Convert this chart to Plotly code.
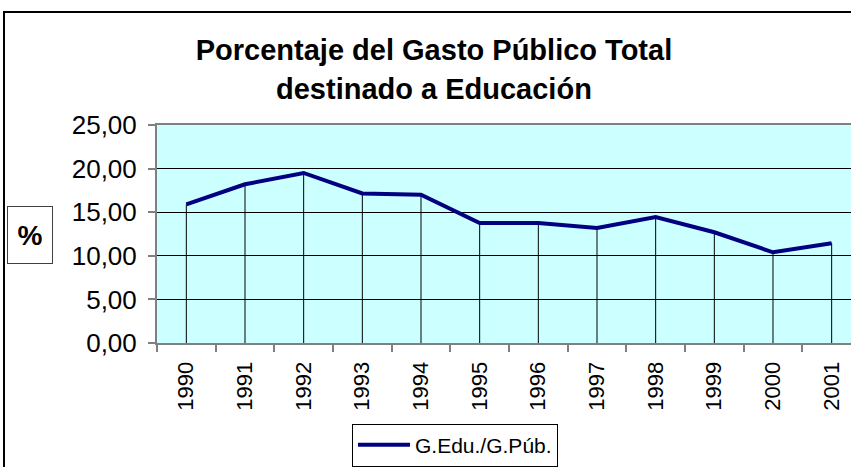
import plotly.graph_objects as go

years = ["1990", "1991", "1992", "1993", "1994", "1995", "1996", "1997", "1998", "1999", "2000", "2001"]
edu_share = [15.9, 18.2, 19.5, 17.15, 17.0, 13.75, 13.75, 13.2, 14.45, 12.7, 10.4, 11.45]
series_name = "G.Edu./G.Púb."
title_line1 = "Porcentaje del Gasto Público Total"
title_line2 = "destinado a Educación"
y_ticks = [0, 5, 10, 15, 20, 25]

W, H = 851, 467
ML, MT, MB, MR = 157, 125, 120, 0
PW = W - ML - MR
PH = H - MT - MB
FONT = "Liberation Sans, Arial, sans-serif"

def px_x(x):
    return (x - ML) / PW

def px_y(y):
    return (H - MB - y) / PH

fig = go.Figure()
fig.add_trace(go.Scatter(
    x=years, y=edu_share, mode="lines", name=series_name,
    line=dict(color="#000080", width=4),
    error_y=dict(type="data", symmetric=False, array=[0] * len(edu_share),
                 arrayminus=edu_share, width=0, color="black", thickness=1),
    showlegend=True,
))

fig.update_layout(
    width=W, height=H,
    margin=dict(l=ML, r=MR, t=MT, b=MB),
    paper_bgcolor="white", plot_bgcolor="#CCFFFF",
    separators=",.",
    font=dict(family=FONT, color="black"),
    title=dict(text="<b>" + title_line1 + "</b>", x=434 / W, xref="container", xanchor="center",
               y=1 - 50 / H, yref="container", yanchor="middle",
               font=dict(size=29, family=FONT, color="black")),
    showlegend=True,
    legend=dict(x=px_x(352), y=px_y(429), xanchor="left", yanchor="top",
                bgcolor="white", bordercolor="black", borderwidth=1,
                font=dict(size=21, family=FONT), itemwidth=52),
)
fig.add_annotation(text="<b>" + title_line2 + "</b>", xref="paper", yref="paper",
                   x=px_x(434), y=px_y(88), xanchor="center", yanchor="middle",
                   showarrow=False, font=dict(size=29, family=FONT, color="black"))
fig.add_annotation(text="<b>%</b>", xref="paper", yref="paper",
                   x=px_x(30), y=px_y(237), xanchor="center", yanchor="middle",
                   showarrow=False, width=44, height=56, bgcolor="white",
                   bordercolor="#404040", borderwidth=1, borderpad=0,
                   font=dict(size=28, family=FONT, color="black"))
fig.add_shape(type="rect", xref="paper", yref="paper",
              x0=px_x(4), y0=px_y(480), x1=px_x(870), y1=px_y(10),
              line=dict(color="black", width=2), fillcolor="rgba(0,0,0,0)", layer="above")

fig.update_xaxes(type="category", range=[-0.5, 11.5 - 10 / 58.7],
                 tickson="boundaries", ticks="outside", ticklen=7, tickcolor="#808080", tickwidth=2,
                 tickangle=-90, tickfont=dict(size=22, family=FONT, color="black"),
                 ticklabelstandoff=8,
                 showline=True, linecolor="#808080", linewidth=2, mirror=True,
                 showgrid=False)
fig.update_yaxes(range=[0, 25], tickvals=y_ticks, tickformat=".2f",
                 ticks="outside", ticklen=7, tickcolor="#808080", tickwidth=2,
                 tickfont=dict(size=26, family=FONT, color="black"),
                 ticklabelstandoff=6,
                 showline=True, linecolor="#808080", linewidth=2,
                 showgrid=True, gridcolor="black", gridwidth=1, zeroline=False)

fig.write_html("out.html", config={"displayModeBar": False},
               post_script="document.body.style.margin='0';document.body.style.overflow='hidden';")
